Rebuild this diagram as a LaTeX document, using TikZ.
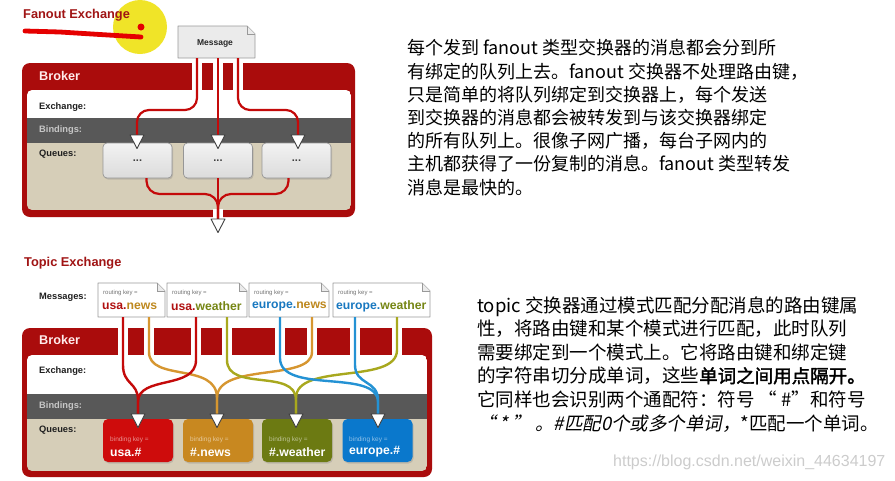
\documentclass[tikz,border=0pt]{standalone}
\usepackage{fontspec}
\setmainfont{Liberation Sans}
\newfontfamily\cjk{Noto Sans CJK SC}
\newfontfamily\cjkit[FakeSlant=0.2]{Noto Sans CJK SC}
\newfontfamily\cjkbf[FakeBold=1.8]{Noto Sans CJK SC}
\usetikzlibrary{shadows}
\definecolor{broker}{RGB}{170,12,12}
\definecolor{titlered}{RGB}{160,20,20}
\definecolor{bindgray}{RGB}{88,88,88}
\definecolor{beige}{RGB}{214,206,184}
\definecolor{qborder}{RGB}{150,150,150}
\definecolor{lred}{RGB}{196,10,10}
\definecolor{lorange}{RGB}{214,150,48}
\definecolor{lolive}{RGB}{168,168,30}
\definecolor{lblue}{RGB}{36,146,212}
\definecolor{qred}{RGB}{206,12,12}
\definecolor{qorange}{RGB}{200,136,32}
\definecolor{qolive}{RGB}{108,122,18}
\definecolor{qblue}{RGB}{10,120,204}
\definecolor{tred}{RGB}{176,16,16}
\definecolor{torange}{RGB}{190,136,30}
\definecolor{tolive}{RGB}{118,134,20}
\definecolor{tblue}{RGB}{24,120,192}
\definecolor{markyellow}{RGB}{240,228,40}
\newcommand\mydocshape[5]{%
  \filldraw[fill=#5,draw=black!40,line width=0.8pt,line join=round] (#1,#2) -- ({#3-8},#2) -- (#3,{#2+8}) -- (#3,#4) -- (#1,#4) -- cycle;
  \draw[draw=black!40,line width=0.7pt,fill=black!8] ({#3-8},#2) -- ({#3-8},{#2+8}) -- (#3,{#2+8});}
\tikzset{
  downtri/.pic={\filldraw[fill=white,draw=black!75,line width=0.9pt,line join=round] (-7,0) -- (7,0) -- (0,13.5) -- cycle;},
  lbl/.style={anchor=west,inner sep=0pt,font=\bfseries\fontsize{9.3}{10}\selectfont,text=black!88},
  brokerlbl/.style={anchor=west,inner sep=0pt,font=\bfseries\fontsize{12.7}{14}\selectfont,text=red!8},
  titlelbl/.style={anchor=west,inner sep=0pt,font=\bfseries\fontsize{12.8}{14}\selectfont,text=titlered},
  fq/.style={draw=qborder,line width=0.7pt,rounded corners=4pt,minimum width=69pt,minimum height=35pt,inner sep=0pt,
    top color=black!5,bottom color=black!14,drop shadow={shadow xshift=1pt,shadow yshift=-1.5pt,opacity=0.3},
    font=\bfseries\fontsize{11}{12}\selectfont,text=black!75},
  tq/.style={rounded corners=5pt,minimum width=70pt,minimum height=43pt,inner sep=0pt,
    drop shadow={shadow xshift=1pt,shadow yshift=-1.5pt,opacity=0.3}},
  fline/.style={draw=lred,line width=2.2pt},
  tl/.style={line width=2.4pt},
  rk/.style={anchor=west,inner sep=0pt,font=\fontsize{6}{7}\selectfont,text=black!55},
  rkey/.style={anchor=west,inner sep=0pt,font=\bfseries\fontsize{12.2}{14}\selectfont},
  bk/.style={anchor=west,inner sep=0pt,font=\fontsize{6.5}{7}\selectfont},
  bkey/.style={anchor=west,inner sep=0pt,font=\bfseries\fontsize{12.2}{14}\selectfont,text=white},
  gap/.style={fill=white},
  zh/.style={anchor=base west,inner sep=0pt,font=\cjk\fontsize{18}{22}\selectfont,text=black},
  zhb/.style={anchor=base west,inner sep=0pt,font=\cjk\fontsize{18.5}{22}\selectfont,text=black},
}
\begin{document}
\begin{tikzpicture}[x=1pt,y=-1pt]
\useasboundingbox (0,0) rectangle (895,480);
\fill[white] (0,0) rectangle (895,480);

% ================= FANOUT =================
\fill[markyellow] (140,27) circle[radius=27pt];
\node[titlelbl] (fanT) at (23,15) {Fanout Exchange};
\draw[red!90!black,line width=4.8pt,line cap=round] (25,31) -- (60,32) -- (100,34.5) -- (141,37);
\fill[red!90!black] (141,27) circle[radius=3.5pt];

% message
\mydocshape{178}{26}{255}{58}{black!8}
\node[inner sep=0pt,font=\bfseries\fontsize{8.5}{9}\selectfont,text=black!85] (msg) at (215,43) {Message};

% broker
\fill[broker,rounded corners=8pt] (22,63) rectangle (355,217);
\begin{scope}
  \clip[rounded corners=5pt] (27,90) rectangle (351,210);
  \fill[white] (27,90) rectangle (351,118);
  \fill[bindgray] (27,118) rectangle (351,143);
  \fill[beige] (27,143) rectangle (351,210);
\end{scope}
\fill[gap] (192,63) rectangle (202,90);
\fill[gap] (213,63) rectangle (223,90);
\fill[gap] (233,63) rectangle (243,90);
\fill[gap] (213,209) rectangle (223,218);

\node[brokerlbl] (fb) at (39,76) {Broker};
\node[lbl] (fex) at (39,107) {Exchange:};
\node[lbl,text=black!22] (fbi) at (39,130) {Bindings:};
\node[lbl] (fqu) at (39,154) {Queues:};

% queues
\node[fq] (fq1) at (137.5,160.5) {...};
\node[fq] (fq2) at (218,160.5) {...};
\node[fq] (fq3) at (296.5,160.5) {...};

\coordinate (mL) at (197,58);
\coordinate (mM) at (218,58);
\coordinate (mR) at (238,58);
\coordinate (fa1) at (137,135);
\coordinate (fa2) at (218,135);
\coordinate (fa3) at (298,135);
\coordinate (fb1) at (146.5,178);
\coordinate (fb2) at (218,178);
\coordinate (fb3) at (288.5,178);
\coordinate (fa4) at (218,219);
\coordinate (fj) at (218,194);

\draw[fline,rounded corners=12pt] (mL) -- (197,110) -| (fa1);
\draw[fline] (mM) -- (fa2);
\draw[fline,rounded corners=12pt] (mR) -- (238,110) -| (fa3);
\draw[fline,rounded corners=13pt] (fb1) |- (fj) -- (fa4);
\draw[fline,rounded corners=13pt] (fb3) |- (fj) -- (fa4);
\draw[fline] (fb2) -- (fa4);

\pic at (fa1) {downtri};
\pic at (fa2) {downtri};
\pic at (fa3) {downtri};
\pic at (fa4) {downtri};

% ================= TOPIC =================
\node[titlelbl] (topT) at (24,263) {Topic Exchange};
\node[lbl] (tmsg) at (39,297) {Messages:};

\mydocshape{98}{283}{165}{317}{white}
\mydocshape{167}{283}{247}{317}{white}
\mydocshape{249}{283}{329}{317}{white}
\mydocshape{333}{283}{430}{317}{white}
\node[rk] (rk1) at (103,293) {routing key =};
\node[rk] (rk2) at (172,293) {routing key =};
\node[rk] (rk3) at (254,293) {routing key =};
\node[rk] (rk4) at (338,293) {routing key =};
\node[rkey] (k1) at (102,306) {\textcolor{tred}{usa.}\textcolor{torange}{news}};
\node[rkey] (k2) at (171,306) {\textcolor{tred}{usa.}\textcolor{tolive}{weather}};
\node[rkey] (k3) at (252,306) {\textcolor{tblue}{europe.}\textcolor{torange}{news}};
\node[rkey] (k4) at (336,306) {\textcolor{tblue}{europe.}\textcolor{tolive}{weather}};

\fill[broker,rounded corners=8pt] (22,328) rectangle (432,477);
\begin{scope}
  \clip[rounded corners=5pt] (27,355) rectangle (427,471);
  \fill[white] (27,355) rectangle (427,394);
  \fill[bindgray] (27,394) rectangle (427,419);
  \fill[beige] (27,419) rectangle (427,471);
\end{scope}
\foreach \gx in {123,149,196,227,280,312,355,397}{
  \fill[gap] ({\gx-5},328) rectangle ({\gx+5},355);
}
\node[brokerlbl] (tb) at (39,340) {Broker};
\node[lbl] (tex) at (39,371) {Exchange:};
\node[lbl,text=black!22] (tbi) at (39,406) {Bindings:};
\node[lbl] (tqu) at (39,430) {Queues:};

\node[tq,fill=qred] (tq1) at (138,440.5) {};
\node[tq,fill=qorange] (tq2) at (218,440.5) {};
\node[tq,fill=qolive] (tq3) at (297,440.5) {};
\node[tq,fill=qblue] (tq4) at (377.5,440.5) {};
\node[bk,text=white!55!qred] (b1) at (110,440) {binding key =};
\node[bk,text=white!55!qorange] (b2) at (190,440) {binding key =};
\node[bk,text=white!55!qolive] (b3) at (269,440) {binding key =};
\node[bk,text=white!55!qblue] (b4) at (349,440) {binding key =};
\node[bkey] (bk1) at (110,452) {usa.\#};
\node[bkey] (bk2) at (190,452) {\#.news};
\node[bkey] (bk3) at (269,452) {\#.weather};
\node[bkey] (bk4) at (349,452) {europe.\#};

\coordinate (s1r) at (123,317);
\coordinate (s1o) at (149,317);
\coordinate (s2r) at (196,317);
\coordinate (s2g) at (227,317);
\coordinate (s3b) at (280,317);
\coordinate (s3o) at (312,317);
\coordinate (s4b) at (355,317);
\coordinate (s4g) at (397,317);
\coordinate (ta1) at (138,414);
\coordinate (ta2) at (217,414);
\coordinate (ta3) at (296,414);
\coordinate (ta4) at (378,414);

\draw[tl,draw=lorange] (s1o) -- (149,352) .. controls (149,382) and (217,362) .. (217,398) -- (ta2);
\draw[tl,draw=lorange] (s3o) -- (312,352) .. controls (312,382) and (217,362) .. (217,398) -- (ta2);
\draw[tl,draw=lolive] (s2g) -- (227,360) .. controls (227,392) and (296,368) .. (296,400) -- (ta3);
\draw[tl,draw=lolive] (s4g) -- (397,350) .. controls (397,385) and (296,362) .. (296,398) -- (ta3);
\draw[tl,draw=lblue] (s3b) -- (280,358) .. controls (280,395) and (378,368) .. (378,402) -- (ta4);
\draw[tl,draw=lblue] (s4b) -- (355,365) .. controls (355,385) and (378,380) .. (378,400) -- (ta4);
\draw[tl,draw=lred] (s2r) -- (196,360) .. controls (196,390) and (138,375) .. (138,402) -- (ta1);
\draw[tl,draw=lred] (s1r) -- (123,365) .. controls (123,385) and (138,382) .. (138,400) -- (ta1);

\pic at (ta1) {downtri};
\pic at (ta2) {downtri};
\pic at (ta3) {downtri};
\pic at (ta4) {downtri};

% ================= TEXT =================
\node[zh] (z1) at (407,54.8) {每个发到 fanout 类型交换器的消息都会分到所};
\node[zh] (z2) at (407,78.0) {有绑定的队列上去。fanout 交换器不处理路由键，};
\node[zh] (z3) at (407,101.2) {只是简单的将队列绑定到交换器上，每个发送};
\node[zh] (z4) at (407,124.4) {到交换器的消息都会被转发到与该交换器绑定};
\node[zh] (z5) at (407,147.6) {的所有队列上。很像子网广播，每台子网内的};
\node[zh] (z6) at (407,170.8) {主机都获得了一份复制的消息。fanout 类型转发};
\node[zh] (z7) at (407,194.0) {消息是最快的。};

\node[zhb] (y1) at (477,312) {topic 交换器通过模式匹配分配消息的路由键属};
\node[zhb] (y2) at (477,335.6) {性，将路由键和某个模式进行匹配，此时队列};
\node[zhb] (y3) at (477,359.2) {需要绑定到一个模式上。它将路由键和绑定键};
\node[zhb] (y4) at (477,382.8) {的字符串切分成单词，这些{\cjkbf 单词之间用点隔开。}};
\node[zhb] (y5) at (477,406.4) {它同样也会识别两个通配符：符号 “ \#”和符号};
\node[zhb] (y6) at (477,430) {{\cjkit “ * ” 。\#匹配0个或多个单词，}*匹配一个单词。};

\node[anchor=west,inner sep=0pt,font=\fontsize{16}{18}\selectfont,text=black!20] (wm) at (613,462) {https://blog.csdn.net/weixin\_44634197};
\end{tikzpicture}
\end{document}
